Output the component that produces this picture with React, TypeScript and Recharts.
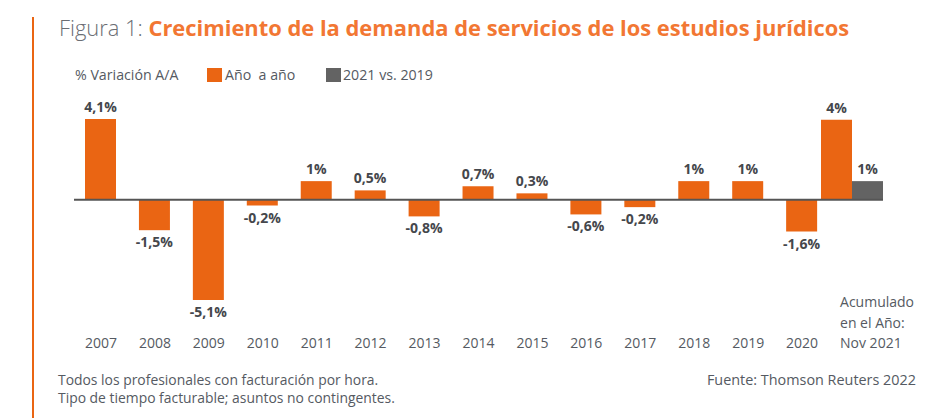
import React from "react";
import { BarChart, Bar, XAxis, YAxis, ReferenceLine, LabelList } from "recharts";

const categories = ["2007","2008","2009","2010","2011","2012","2013","2014","2015","2016","2017","2018","2019","2020","2021"];
const yearOverYear = [4.1, -1.55, -5.1, -0.3, 0.94, 0.47, -0.85, 0.68, 0.32, -0.75, -0.38, 0.94, 0.94, -1.62, 4.05];
const yearOverYearLabels = ["4,1%","-1,5%","-5,1%","-0,2%","1%","0,5%","-0,8%","0,7%","0,3%","-0,6%","-0,2%","1%","1%","-1,6%","4%"];
const vs2019 = [null, null, null, null, null, null, null, null, null, null, null, null, null, null, 0.94];
const vs2019Labels = ["", "", "", "", "", "", "", "", "", "", "", "", "", "", "1%"];
const lastTickLines = ["Acumulado", "en el Año:", "Nov 2021"];

const ORANGE = "#EA6513";
const GRAY = "#636363";
const TEXT = "#555a62";
const FONT = "'Open Sans', 'Noto Sans', sans-serif";

const lastIndex = categories.length - 1;
const data = categories.map((c, i) => ({
  year: c,
  single: i === lastIndex ? null : yearOverYear[i],
  singleLabel: i === lastIndex ? "" : yearOverYearLabels[i],
  last: i === lastIndex ? yearOverYear[i] : null,
  lastLabel: i === lastIndex ? yearOverYearLabels[i] : "",
  cmp: vs2019[i],
  cmpLabel: vs2019Labels[i],
}));

const ValueLabel = (props: any) => {
  const { x, y, width, height, value } = props;
  if (value === undefined || value === null || value === "") return null;
  const top = Math.min(y, y + height);
  const bottom = Math.max(y, y + height);
  const neg = String(value).startsWith("-");
  const cx = x + width / 2;
  return (
    <text x={cx} y={neg ? bottom + 17 : top - 7} textAnchor="middle" fontFamily={FONT} fontSize={14} fontWeight={700} fill="#45474c">
      {value}
    </text>
  );
};

const YearTick = (props: any) => {
  const { x, y, payload } = props;
  if (payload.value === categories[lastIndex]) {
    return (
      <g>
        {lastTickLines.map((l, i) => (
          <text key={i} x={x - 16} y={y - 1 + i * 20.5} textAnchor="start" fontFamily={FONT} fontSize={14} fill={TEXT}>
            {l}
          </text>
        ))}
      </g>
    );
  }
  return (
    <text x={x} y={y + 40} textAnchor="middle" fontFamily={FONT} fontSize={14} fill={TEXT}>
      {payload.value}
    </text>
  );
};

export default function App() {
  return (
    <div style={{ position: "absolute", left: 0, top: 0, width: 932, height: 418, background: "#fff", overflow: "hidden" }}>
      <div style={{ position: "absolute", left: 0, top: 0 }}>
        <BarChart width={932} height={418} data={data} margin={{ top: 111, right: 49, bottom: 50, left: 74 }} barGap={0}>
          <XAxis xAxisId="main" dataKey="year" axisLine={false} tickLine={false} tickSize={0} tickMargin={0} height={60} interval={0} tick={<YearTick />} />
          <XAxis xAxisId="pair" dataKey="year" hide padding={{ left: -237, right: -4 }} />
          <YAxis domain={[-5.5, 4.5]} hide />
          <ReferenceLine xAxisId="main" y={0} stroke="#555555" strokeWidth={2} />
          <Bar xAxisId="main" dataKey="single" fill={ORANGE} barSize={31} isAnimationActive={false}>
            <LabelList dataKey="singleLabel" content={<ValueLabel />} />
          </Bar>
          <Bar xAxisId="pair" dataKey="last" fill={ORANGE} barSize={31} isAnimationActive={false}>
            <LabelList dataKey="lastLabel" content={<ValueLabel />} />
          </Bar>
          <Bar xAxisId="pair" dataKey="cmp" fill={GRAY} barSize={31} isAnimationActive={false}>
            <LabelList dataKey="cmpLabel" content={<ValueLabel />} />
          </Bar>
        </BarChart>
      </div>
      <svg width={932} height={418} style={{ position: "absolute", left: 0, top: 0, pointerEvents: "none" }}>
        <rect x={32} y={17} width={2} height={401} fill={ORANGE} />
        <text x={59} y={36} fontFamily={FONT} fontSize={21.9}>
          <tspan fill="#6b6e74" fontWeight={300}>Figura 1: </tspan>
          <tspan fill="#F27733" fontWeight={700}>Crecimiento de la demanda de servicios de los estudios jurídicos</tspan>
        </text>
        <text x={75} y={80} fontFamily={FONT} fontSize={14.2} fill={TEXT}>% Variación A/A</text>
        <rect x={207} y={68} width={15} height={14} fill={ORANGE} />
        <text x={225} y={80} fontFamily={FONT} fontSize={14.2} fill={TEXT} style={{ whiteSpace: "pre" }}>Año  a año</text>
        <rect x={326} y={68} width={15} height={14} fill={GRAY} />
        <text x={343} y={80} fontFamily={FONT} fontSize={14.2} fill={TEXT}>2021 vs. 2019</text>
        <text x={58} y={385} fontFamily={FONT} fontSize={13.9} fill={TEXT}>Todos los profesionales con facturación por hora.</text>
        <text x={58} y={403} fontFamily={FONT} fontSize={13.9} fill={TEXT}>Tipo de tiempo facturable; asuntos no contingentes.</text>
        <text x={916} y={385} textAnchor="end" fontFamily={FONT} fontSize={14.4} fill={TEXT}>Fuente: Thomson Reuters 2022</text>
      </svg>
    </div>
  );
}
